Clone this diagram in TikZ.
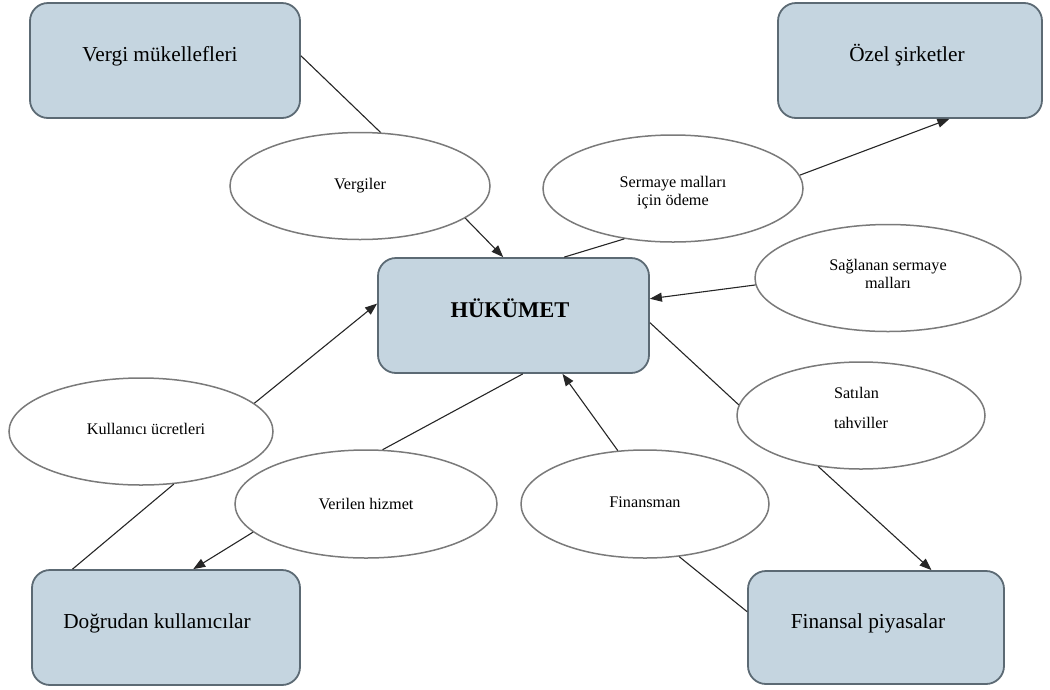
\documentclass[tikz,border=0pt]{standalone}
\usepackage{fontspec}
\setmainfont{Liberation Serif}
\usetikzlibrary{shapes.geometric,arrows.meta}
\definecolor{boxfill}{RGB}{197,213,224}
\definecolor{boxdraw}{RGB}{92,106,116}
\definecolor{elldraw}{RGB}{122,122,122}
\begin{document}
\begin{tikzpicture}[x=1pt,y=-1pt,
  entity/.style={draw=boxdraw, fill=boxfill, line width=1.8pt, rounded corners=18pt, inner sep=0pt,
    font=\fontsize{21.3}{25}\selectfont, text height=15pt, text depth=13pt},
  flow/.style={ellipse, draw=elldraw, fill=white, line width=1.5pt, inner sep=0pt,
    font=\fontsize{16.2}{18}\selectfont, align=center},
  link/.style={line width=1.1pt, draw=black!85},
  arr/.style={link, -{Triangle[length=12pt,width=9pt]}}]
\useasboundingbox (0,0) rectangle (1050,689);
% boxes
\node[entity, minimum width=270pt, minimum height=115pt] (vm) at (165,60.5) {Vergi mükellefleri\hspace*{10pt}};
\node[entity, minimum width=264pt, minimum height=115pt] (oz) at (910,60.5) {Özel şirketler\hspace*{6pt}};
\node[entity, minimum width=271pt, minimum height=115pt, font=\bfseries\fontsize{22.5}{26}\selectfont, text height=16pt, text depth=12pt] (huk) at (513.5,315.5) {HÜKÜMET\hspace*{7pt}};
\node[entity, minimum width=268pt, minimum height=115pt] (dk) at (166,627.5) {Doğrudan kullanıcılar\hspace*{18pt}};
\node[entity, minimum width=256pt, minimum height=113pt] (fp) at (876,627.5) {Finansal piyasalar\hspace*{16pt}};
% ellipses
\node[flow, minimum width=260pt, minimum height=107pt] (verg) at (360,186) {Vergiler};
\node[flow, minimum width=260pt, minimum height=107pt] (serm) at (673,188.5) {\rule{0pt}{20pt}Sermaye malları\\için ödeme};
\node[flow, minimum width=266pt, minimum height=107pt] (sagl) at (888,278) {Sağlanan sermaye\\malları\rule[-8pt]{0pt}{0pt}};
\node[flow, minimum width=248pt, minimum height=107pt, align=left] (sat) at (861,415.5) {Satılan\\[12pt]tahviller\rule[-16pt]{0pt}{0pt}};
\node[flow, minimum width=248pt, minimum height=108pt] (fin) at (645,504) {Finansman\rule[-4pt]{0pt}{0pt}};
\node[flow, minimum width=264pt, minimum height=107pt] (kul) at (141,431.5) {\hspace*{10pt}Kullanıcı ücretleri\rule[-6pt]{0pt}{0pt}};
\node[flow, minimum width=262pt, minimum height=108pt] (ver) at (366,504) {Verilen hizmet};
% connectors
\draw[link] (vm.2) -- (verg.69);
\draw[arr] (verg.-17) -- (huk.100);
\draw[link] (huk.49) -- (serm.-134);
\draw[arr] (serm.6) -- (oz.-56.5);
\draw[arr] (sagl.-177) -- (huk.7);
\draw[link] (huk.-3) -- (sat.175);
\draw[arr] (sat.-130) -- (fp.46);
\draw[link] (fp.173.5) -- (fin.-57);
\draw[arr] (fin.117) -- (huk.-50);
\draw[link] (huk.-81) -- (ver.73.5);
\draw[arr] (ver.-166.5) -- (dk.65);
\draw[link] (dk.148) -- (kul.-58);
\draw[arr] (kul.14) -- (huk.175.5);
\end{tikzpicture}
\end{document}
